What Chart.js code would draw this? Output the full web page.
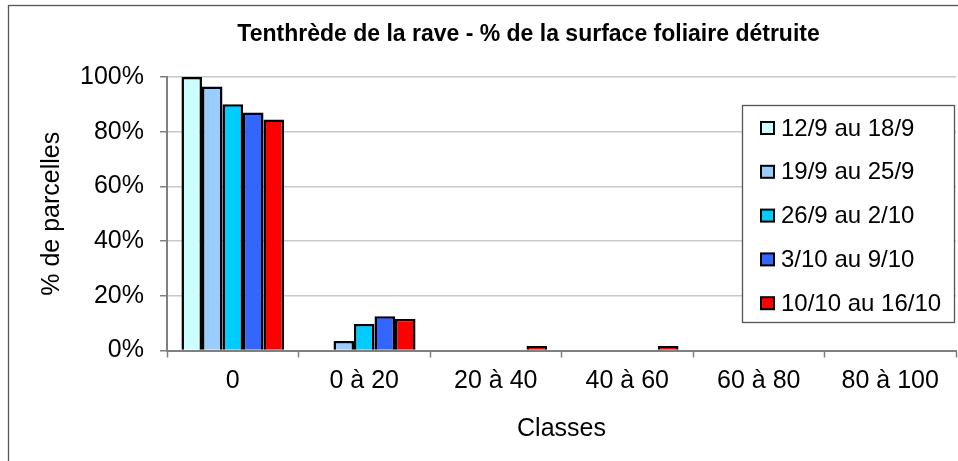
<!DOCTYPE html>
<html lang="fr">
<head>
    <meta charset="UTF-8">
    <title>Tenthrède de la rave</title>
    <style>
        html, body {
            margin: 0;
            padding: 0;
            background: #ffffff;
        }

        #chart {
            display: block;
        }
    </style>
</head>
<body>
    <canvas id="chart" width="958" height="461"></canvas>
    <script src="https://cdn.jsdelivr.net/npm/chart.js"></script>
    <script>
        // données
        const classes = ['0', '0 à 20', '20 à 40', '40 à 60', '60 à 80', '80 à 100'];
        const periodes = ['12/9 au 18/9', '19/9 au 25/9', '26/9 au 2/10', '3/10 au 9/10', '10/10 au 16/10'];
        const sem1 = [100, 0, 0, 0, 0, 0];
        const sem2 = [96.5, 3.5, 0, 0, 0, 0];
        const sem3 = [90, 9.7, 0, 0, 0, 0];
        const sem4 = [87, 12.5, 0, 0, 0, 0];
        const sem5 = [84.5, 11.5, 1.6, 1.6, 0, 0];
        const couleurs = ['#CCFFFF', '#99CCFF', '#00CCFF', '#3366FF', '#FF0000'];
        const yTicks = [0, 20, 40, 60, 80, 100];

        const police = 'Arial, "Liberation Sans", sans-serif';

        // cadre, titre et légende dessinés à la main (légende dans la zone de tracé)
        const decor = {
            id: 'decor',
            beforeDraw(chart) {
                const ctx = chart.ctx;
                ctx.save();
                ctx.fillStyle = '#ffffff';
                ctx.fillRect(0, 0, chart.width, chart.height);
                ctx.restore();
            },
            afterDraw(chart) {
                const ctx = chart.ctx;
                ctx.save();
                // cadre
                ctx.strokeStyle = '#555555';
                ctx.lineWidth = 1.3;
                ctx.strokeRect(8.5, 5.5, 1000, 1000);

                // titre
                ctx.fillStyle = '#000000';
                ctx.font = 'bold 23px ' + police;
                ctx.textAlign = 'center';
                ctx.textBaseline = 'middle';
                ctx.fillText('Tenthrède de la rave - % de la surface foliaire détruite', 528.5, 35);

                // légende
                const lx = 742, ly = 105, lw = 212, lh = 217;
                ctx.fillStyle = '#ffffff';
                ctx.fillRect(lx, ly, lw, lh);
                ctx.strokeStyle = '#555555';
                ctx.lineWidth = 1.3;
                ctx.strokeRect(lx + 0.5, ly + 0.5, lw, lh);

                ctx.font = '24px ' + police;
                ctx.textAlign = 'left';
                chart.data.datasets.forEach((ds, i) => {
                    const cy = 128 + i * 43.8;
                    ctx.fillStyle = ds.backgroundColor;
                    ctx.fillRect(761, cy - 6, 13, 12);
                    ctx.strokeStyle = '#000000';
                    ctx.lineWidth = 2;
                    ctx.strokeRect(761, cy - 6, 13, 12);
                    ctx.fillStyle = '#000000';
                    ctx.fillText(ds.label, 781, cy + 1);
                });
                ctx.restore();
            }
        };

        const series = [sem1, sem2, sem3, sem4, sem5];

        new Chart(document.getElementById('chart'), {
            type: 'bar',
            data: {
                labels: classes,
                datasets: periodes.map((p, i) => ({
                    label: p,
                    data: series[i],
                    backgroundColor: couleurs[i],
                    borderColor: '#000000',
                    borderWidth: 2.5,
                    categoryPercentage: 0.78,
                    barPercentage: 1
                }))
            },
            options: {
                responsive: false,
                animation: false,
                layout: {
                    padding: { top: 77, right: 2, bottom: 0, left: 0 }
                },
                plugins: {
                    legend: { display: false },
                    title: { display: false },
                    tooltip: { enabled: false }
                },
                scales: {
                    x: {
                        afterFit(scale) { scale.height = 110.5; },
                        grid: {
                            drawOnChartArea: false,
                            drawTicks: true,
                            tickLength: 7,
                            tickColor: '#808080',
                            tickWidth: 1.5
                        },
                        border: { color: '#808080', width: 2 },
                        ticks: {
                            color: '#000000',
                            padding: 9,
                            maxRotation: 0,
                            font: { family: police, size: 25 }
                        },
                        title: {
                            display: true,
                            text: 'Classes',
                            color: '#000000',
                            padding: { top: 0, bottom: 17 },
                            font: { family: police, size: 25 }
                        }
                    },
                    y: {
                        min: 0,
                        max: 100,
                        afterFit(scale) { scale.width = 167; },
                        afterBuildTicks(scale) {
                            scale.ticks = yTicks.map(v => ({ value: v }));
                        },
                        grid: {
                            color: '#c8c8c8',
                            lineWidth: 1.5,
                            tickLength: 7,
                            tickColor: '#808080',
                            tickWidth: 1.5
                        },
                        border: { color: '#808080', width: 2 },
                        ticks: {
                            color: '#000000',
                            padding: 16,
                            callback: v => v + '%',
                            font: { family: police, size: 25 }
                        },
                        title: {
                            display: true,
                            text: '% de parcelles',
                            color: '#000000',
                            padding: { top: 37, bottom: 0 },
                            font: { family: police, size: 25 }
                        }
                    }
                }
            },
            plugins: [decor]
        });
    </script>
</body>
</html>
